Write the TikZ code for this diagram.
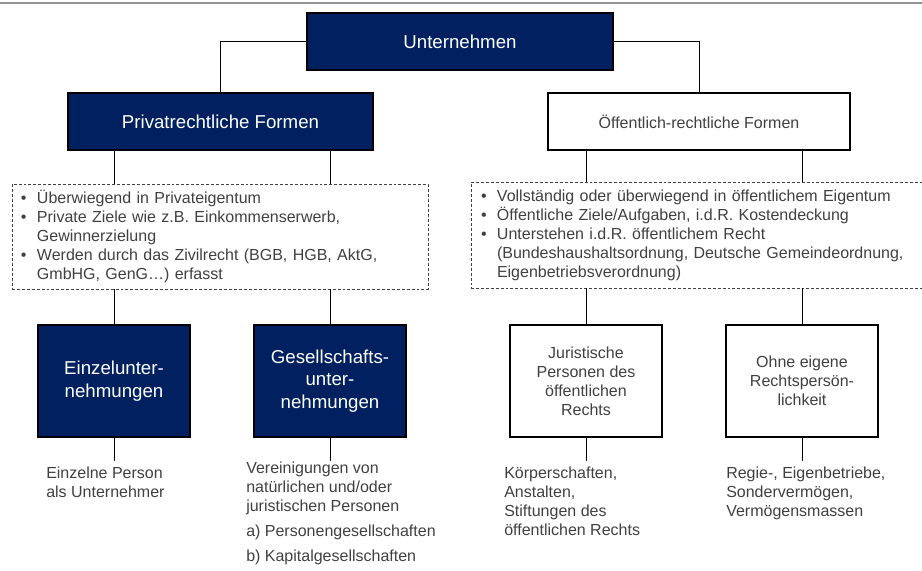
\documentclass[tikz,border=0pt]{standalone}
\usepackage{fontspec}
\setmainfont{Liberation Sans}
\usetikzlibrary{positioning}
\definecolor{navy}{HTML}{002060}
\definecolor{txtgray}{HTML}{404040}
\newcommand{\bul}{\makebox[12pt][l]{\textbullet}}
\newcommand{\hng}{\hspace*{12pt}}
\begin{document}
\begin{tikzpicture}[
 x=0.75pt,y=-0.75pt,
 dark/.style={draw=black,fill=navy,text=white,align=center,font=\fontsize{14}{16.8}\selectfont,line width=0.8pt},
 light/.style={draw=black,fill=white,text=txtgray,align=center,font=\fontsize{12}{14.25}\selectfont,line width=0.8pt},
 info/.style={draw=txtgray,dash pattern=on 2.2pt off 1.5pt,align=left,text=txtgray,font=\fontsize{12}{14.25}\selectfont,line width=0.6pt},
 desc/.style={anchor=north west,align=left,text=txtgray,inner xsep=0pt,font=\fontsize{12}{14.25}\selectfont},
 link/.style={draw=black,line width=0.6pt}
]
\useasboundingbox (0,0) rectangle (922,571);
\draw[line width=2pt,color=gray!85] (0,3) -- (922,3);
\node[dark,minimum width=229.5pt,minimum height=42.75pt] (unt) at (460,41.5) {Unternehmen};
\node[dark,minimum width=228.75pt,minimum height=42.75pt] (priv) at (220.5,121.5) {Privatrechtliche Formen};
\node[light,minimum width=226.5pt,minimum height=42.75pt] (oeff) at (699,121.5) {Öffentlich-rechtliche Formen};
\node[info,minimum width=312pt,minimum height=78.75pt,text width=298.5pt,inner xsep=6.75pt] (privinfo) at (220,236.5) {%
\bul Überwiegend in Privateigentum\\
\bul Private Ziele wie z.B. Einkommenserwerb,\\
\hng Gewinnerzielung\\
\bul Werden durch das Zivilrecht (BGB, HGB, AktG,\\
\hng GmbHG, GenG…) erfasst};
\begin{scope}
\clip (0,0) rectangle (922,571);
\node[info,minimum width=351.75pt,minimum height=79.5pt,text width=336.75pt,inner xsep=7.5pt] (oeffinfo) at (705.5,235) {%
\bul Vollständig oder überwiegend in öffentlichem Eigentum\\
\bul Öffentliche Ziele/Aufgaben, i.d.R. Kostendeckung\\
\bul Unterstehen i.d.R. öffentlichem Recht\\
\hng (Bundeshaushaltsordnung, Deutsche Gemeindeordnung,\\
\hng Eigenbetriebsverordnung)};
\end{scope}
\node[dark,minimum width=114pt,minimum height=84pt] (einz) at (114,381) {Einzelunter-\\nehmungen};
\node[dark,minimum width=114pt,minimum height=84pt] (gesell) at (330,381) {Gesellschafts-\\unter-\\nehmungen};
\node[light,minimum width=114pt,minimum height=84pt] (jur) at (586,381) {Juristische\\Personen des\\öffentlichen\\Rechts};
\node[light,minimum width=114pt,minimum height=84pt] (ohne) at (802,381) {Ohne eigene\\Rechtspersön-\\lichkeit};
\node[desc,inner ysep=4pt] (einzdesc) at (46,461) {Einzelne Person\\als Unternehmer};
\node[desc,inner ysep=0.5pt] (gesdesc) at (246,461) {Vereinigungen von\\natürlichen und/oder\\juristischen Personen\\[4.5pt]a) Personengesellschaften\\[4.5pt]b) Kapitalgesellschaften};
\node[desc,inner ysep=4pt] (jurdesc) at (504,461) {Körperschaften,\\Anstalten,\\Stiftungen des\\öffentlichen Rechts};
\node[desc,inner ysep=4.5pt] (ohnedesc) at (726,461) {Regie-, Eigenbetriebe,\\Sondervermögen,\\Vermögensmassen};
\draw[link] (unt.west) -| (priv.north);
\draw[link] (unt.east) -| (oeff.north);
\draw[link] (einz.north |- priv.south) -- (einz.north |- privinfo.north);
\draw[link] (gesell.north |- priv.south) -- (gesell.north |- privinfo.north);
\draw[link] (jur.north |- oeff.south) -- (jur.north |- oeffinfo.north);
\draw[link] (ohne.north |- oeff.south) -- (ohne.north |- oeffinfo.north);
\draw[link] (einz.north |- privinfo.south) -- (einz.north);
\draw[link] (gesell.north |- privinfo.south) -- (gesell.north);
\draw[link] (jur.north |- oeffinfo.south) -- (jur.north);
\draw[link] (ohne.north |- oeffinfo.south) -- (ohne.north);
\draw[link] (einz.south) -- (einz.south |- einzdesc.north);
\draw[link] (gesell.south) -- (gesell.south |- gesdesc.north);
\draw[link] (jur.south) -- (jur.south |- jurdesc.north);
\draw[link] (ohne.south) -- (ohne.south |- ohnedesc.north);
\end{tikzpicture}
\end{document}
